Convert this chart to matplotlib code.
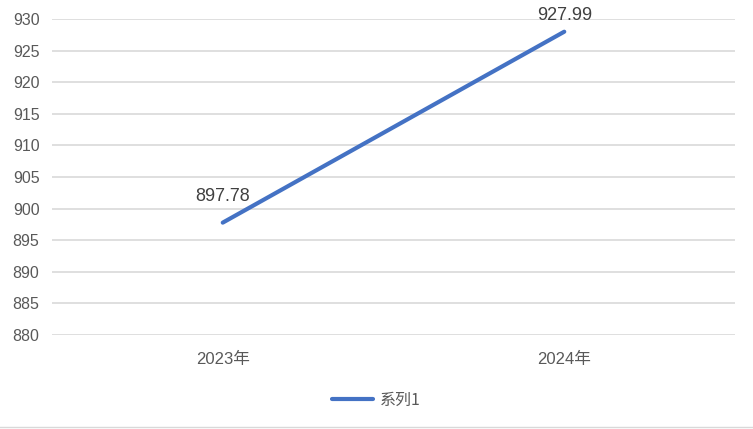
import matplotlib.pyplot as plt
from matplotlib.lines import Line2D

plt.rcParams['font.family'] = ['Liberation Sans', 'Noto Sans CJK SC', 'DejaVu Sans']

categories = ['2023年', '2024年']
values = [897.78, 927.99]
series_name = '系列1'
y_ticks = list(range(880, 931, 5))

line_color = '#4472C4'
grid_color = '#D9D9D9'
text_color = '#595959'

fig = plt.figure(figsize=(7.53, 4.29), dpi=100)
ax = fig.add_axes([52 / 753, 1 - 335 / 429, 683 / 753, 316 / 429])

x = list(range(len(categories)))
ax.plot(x, values, color=line_color, linewidth=3.0, solid_capstyle='round')

ax.set_xlim(-0.5, len(categories) - 0.5)
ax.set_ylim(880, 930)
ax.set_yticks(y_ticks)
ax.set_xticks(x)
ax.set_xticklabels(categories, family=['Liberation Sans', 'Noto Sans CJK SC'])
ax.tick_params(axis='both', length=0, labelsize=11.5, labelcolor=text_color)
ax.tick_params(axis='x', labelsize=12, pad=12)
ax.tick_params(axis='y', pad=9)
ax.grid(axis='y', color=grid_color, linewidth=1.2)
ax.set_axisbelow(True)
for s in ax.spines.values():
    s.set_visible(False)

# data labels above each point (pixel offsets differ like in the source chart)
label_offsets = [18, 8]
for xi, v, off in zip(x, values, label_offsets):
    ax.annotate(f'{v:.2f}', (xi, v), xytext=(0, off), textcoords='offset pixels',
                ha='center', va='bottom', fontsize=13, color='#404040')

handle = Line2D([0], [0], color=line_color, linewidth=3.0, solid_capstyle='round')
fig.legend([handle], [series_name], loc='center', bbox_to_anchor=(376 / 753, 1 - 400 / 429),
           frameon=False, labelcolor=text_color, handlelength=2.6, handletextpad=0.4,
           prop={'family': ['Noto Sans CJK SC', 'DejaVu Sans'], 'size': 11.5})

# thin frame line at the bottom of the chart area
fig.add_artist(Line2D([0, 1], [1 - 427 / 429] * 2, color=grid_color, linewidth=1.0,
                      transform=fig.transFigure))

fig.savefig('out.png', dpi=100)
